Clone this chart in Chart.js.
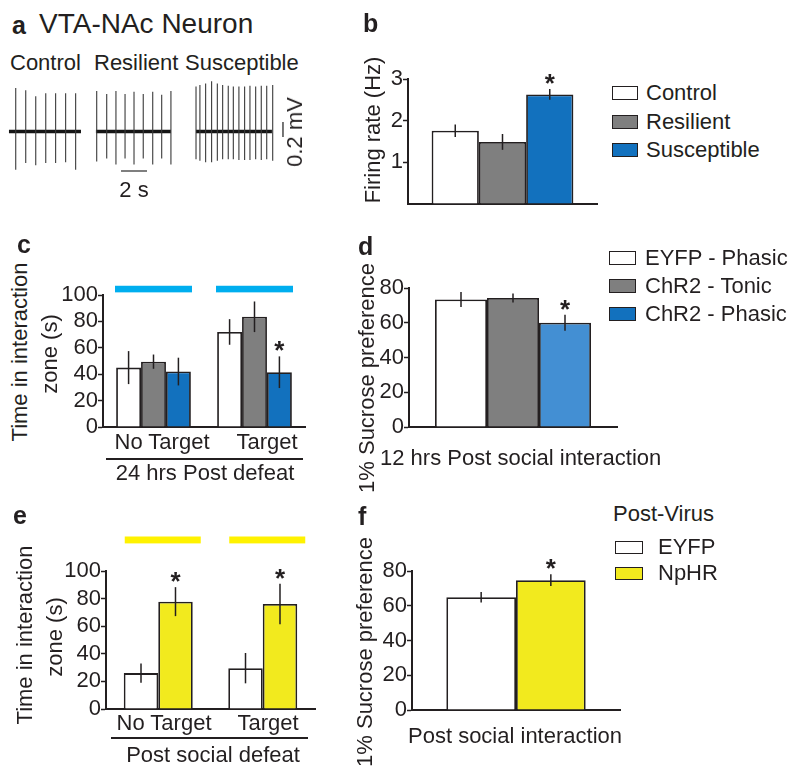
<!DOCTYPE html>
<html lang="en">
<head>
<meta charset="UTF-8" />
<title>VTA-NAc neuron firing and behaviour</title>
<script src="https://cdn.jsdelivr.net/npm/chart.js"></script>
<style>
  body { margin: 0; background: #fff; }
  #fig {
    position: relative;
    width: 800px;
    height: 778px;
    overflow: hidden;
    font-family: "Liberation Sans", Arial, Helvetica, sans-serif;
    color: #231f20;
  }
  #fig canvas { position: absolute; }
  .t { position: absolute; font-size: 22px; line-height: 1; white-space: nowrap; }
  .letter { font-weight: bold; font-size: 25px; }
  .big { font-size: 28px; }
  .rot { transform: translate(-50%, -50%) rotate(-90deg); }
  .mid { transform: translate(-50%, -50%); }
  .lft { transform: translateY(-50%); }
  .rule { position: absolute; height: 2px; background: #231f20; }
  .key { position: absolute; border: 1.5px solid #231f20; box-sizing: border-box; }
</style>
</head>
<body>
<div id="fig"></div>

<script>
  const FONT = '"Liberation Sans", Arial, Helvetica, sans-serif';
  const INK = '#231f20';

  // ---- a: example traces (time in s, spike peak / trough in mV) ----
  const ctrlSpan = [0.69, 6.23];
  const ctrlSpikes = [1.21, 1.98, 2.75, 3.52, 4.28, 5.05, 5.82];
  const ctrlTop = [0.58, 0.55, 0.47, 0.51, 0.51, 0.51, 0.51];
  const ctrlBot = [-0.51, -0.42, -0.45, -0.42, -0.42, -0.41, -0.51];

  const resSpan = [7.38, 13.15];
  const resSpikes = [7.44, 8.21, 8.92, 9.62, 10.31, 11.02, 11.75, 12.44, 13.15];
  const resTop = [0.54, 0.50, 0.54, 0.50, 0.53, 0.50, 0.53, 0.49, 0.54];
  const resBot = [-0.40, -0.36, -0.44, -0.36, -0.44, -0.36, -0.44, -0.36, -0.44];

  const susSpan = [15.08, 20.92];
  const susSpikes = [15.08, 15.38, 15.82, 16.28, 16.72, 17.13, 17.56, 17.95, 18.38, 18.82, 19.23, 19.67, 20.10, 20.52, 20.98];
  const susTop = [0.60, 0.62, 0.64, 0.67, 0.64, 0.62, 0.61, 0.60, 0.60, 0.60, 0.61, 0.60, 0.61, 0.61, 0.62];
  const susBot = [-0.37, -0.39, -0.41, -0.41, -0.39, -0.37, -0.37, -0.37, -0.38, -0.38, -0.38, -0.37, -0.38, -0.37, -0.39];

  const timeBar = [9.31, 11.31];      // 2 s
  const voltBar = [-0.073, 0.127];    // 0.2 mV

  // ---- b: firing rate ----
  const bGroups = ['Control', 'Resilient', 'Susceptible'];
  const bRate = [1.76, 1.49, 2.63];
  const bErr = [0.15, 0.19, 0.13];

  // ---- c: interaction time, 24 hrs post defeat ----
  const cCats = ['No Target', 'Target'];
  const cControl = [45, 72];
  const cControlErr = [12.5, 9.7];
  const cResilient = [49.5, 83.5];
  const cResilientErr = [5.4, 11.6];
  const cSusceptible = [42, 41.5];
  const cSusceptibleErr = [10.5, 12];

  // ---- d: sucrose preference ----
  const dGroups = ['EYFP - Phasic', 'ChR2 - Tonic', 'ChR2 - Phasic'];
  const dPref = [73.4, 74.3, 60];
  const dErr = [4.3, 2.6, 4.6];

  // ---- e: interaction time, post social defeat ----
  const eCats = ['No Target', 'Target'];
  const eEYFP = [26, 29.6];
  const eEYFPErr = [7, 11];
  const eNpHR = [77.8, 76.1];
  const eNpHRErr = [10.5, 14.7];

  // ---- f: sucrose preference ----
  const fGroups = ['EYFP', 'NpHR'];
  const fPref = [64.9, 74.7];
  const fErr = [3, 3.4];

  const WHITE = '#ffffff', GREY = '#7f7f7f', BLUE = '#1271be', LIGHTBLUE = '#438fd3', YELLOW = '#f2ea1e';

  Chart.defaults.font.family = FONT;
  Chart.defaults.color = INK;

  const fig = document.getElementById('fig');

  function text(str, x, y, cls) {
    const el = document.createElement('div');
    el.className = 't ' + cls;
    el.textContent = str;
    el.style.left = x + 'px';
    el.style.top = y + 'px';
    fig.appendChild(el);
  }

  function rule(x, y, w) {
    const el = document.createElement('div');
    el.className = 'rule';
    el.style.left = x + 'px';
    el.style.top = y + 'px';
    el.style.width = w + 'px';
    fig.appendChild(el);
  }

  function legend(names, colors, x, ys, w, h, textX) {
    names.forEach((name, i) => {
      const k = document.createElement('div');
      k.className = 'key';
      k.style.left = x + 'px';
      k.style.top = (ys[i] - h / 2) + 'px';
      k.style.width = w + 'px';
      k.style.height = h + 'px';
      k.style.background = colors[i];
      fig.appendChild(k);
      text(name, textX, ys[i], 'lft');
    });
  }

  // ---- panel a ----
  function trace(span, times, tops, bots) {
    const spikes = [];
    times.forEach((t, i) => {
      spikes.push({ x: t, y: bots[i] }, { x: t, y: tops[i] }, { x: t, y: null });
    });
    return { base: [{ x: span[0], y: 0 }, { x: span[1], y: 0 }, { x: span[1], y: null }], spikes };
  }

  const traces = [
    trace(ctrlSpan, ctrlSpikes, ctrlTop, ctrlBot),
    trace(resSpan, resSpikes, resTop, resBot),
    trace(susSpan, susSpikes, susTop, susBot)
  ];

  const aCanvas = document.createElement('canvas');
  aCanvas.width = 300;
  aCanvas.height = 100;
  aCanvas.style.left = '0px';
  aCanvas.style.top = '80px';
  fig.appendChild(aCanvas);

  new Chart(aCanvas, {
    type: 'line',
    data: {
      datasets: [
        {
          data: traces.flatMap(tr => tr.spikes),
          borderColor: '#3a3a3a', borderWidth: 1.1, pointRadius: 0, spanGaps: false
        },
        {
          data: traces.flatMap(tr => tr.base),
          borderColor: '#151515', borderWidth: 3.5, pointRadius: 0, spanGaps: false
        },
        {
          data: [
            { x: timeBar[0], y: -0.527 }, { x: timeBar[1], y: -0.527 }, { x: timeBar[1], y: null },
            { x: 21.77, y: voltBar[0] }, { x: 21.77, y: voltBar[1] }
          ],
          borderColor: '#555', borderWidth: 1.6, pointRadius: 0, spanGaps: false
        }
      ]
    },
    options: {
      responsive: false,
      animation: false,
      layout: { padding: 0 },
      plugins: { legend: { display: false }, tooltip: { enabled: false } },
      scales: {
        x: { type: 'linear', min: 0, max: 23.08, display: false },
        y: { min: -0.647, max: 0.687, display: false }
      }
    }
  });

  // ---- bar panels ----
  function barPanel(box, labels, sets, opt) {
    const YW = 60, PT = 45, PB = 20, PR = 8;
    const cv = document.createElement('canvas');
    cv.width = box.r - box.l + YW + PR;
    cv.height = box.b - box.t + PT + PB;
    cv.style.left = (box.l - YW) + 'px';
    cv.style.top = (box.t - PT) + 'px';
    fig.appendChild(cv);

    const marks = {
      id: 'marks',
      afterDatasetsDraw(chart) {
        const c = chart.ctx, ys = chart.scales.y, xs = chart.scales.x;
        c.save();
        if (opt.stim) {
          c.fillStyle = opt.stim.color;
          labels.forEach((_, i) => {
            const cx = xs.getPixelForValue(i) + opt.stim.shift;
            const y1 = ys.getPixelForValue(opt.stim.hi);
            const y2 = ys.getPixelForValue(opt.stim.lo);
            c.fillRect(cx - opt.stim.half, y1, opt.stim.half * 2, y2 - y1);
          });
        }
        // error bars
        c.strokeStyle = INK;
        c.lineWidth = 1.5;
        sets.forEach((s, i) => {
          chart.getDatasetMeta(i).data.forEach((bar, j) => {
            const hi = ys.getPixelForValue(s.data[j] + s.err[j]);
            const lo = ys.getPixelForValue(s.data[j] - s.err[j]);
            c.beginPath();
            c.moveTo(bar.x, hi);
            c.lineTo(bar.x, lo);
            c.stroke();
          });
        });
        // significance stars
        c.fillStyle = INK;
        c.font = 'bold 26px ' + FONT;
        c.textAlign = 'center';
        c.textBaseline = 'alphabetic';
        (opt.stars || []).forEach(([i, j]) => {
          const s = sets[i];
          const bar = chart.getDatasetMeta(i).data[j];
          const top = ys.getPixelForValue(s.data[j] + s.err[j]);
          c.fillText('*', bar.x, top + 3);
        });
        c.restore();
      }
    };

    new Chart(cv, {
      type: 'bar',
      data: {
        labels: labels,
        datasets: sets.map(s => ({
          label: s.label,
          data: s.data,
          backgroundColor: s.color,
          borderColor: INK,
          borderWidth: 1.8,
          categoryPercentage: opt.cat,
          barPercentage: 1
        }))
      },
      options: {
        responsive: false,
        animation: false,
        layout: { padding: { left: 0, top: PT, right: PR, bottom: PB } },
        plugins: { legend: { display: false }, tooltip: { enabled: false } },
        scales: {
          x: {
            grid: { display: false },
            ticks: { display: false },
            border: { color: INK, width: 2 },
            afterFit: s => { s.height = 0; }
          },
          y: {
            min: 0,
            max: opt.max,
            ticks: {
              stepSize: opt.step,
              autoSkip: false,
              padding: 0,
              color: INK,
              font: { size: 22 },
              callback: v => (opt.noZero && v === 0) ? '' : v
            },
            grid: {
              drawOnChartArea: false,
              tickLength: 5,
              tickWidth: 1.5,
              tickColor: ctx => (opt.noZero && ctx.tick && ctx.tick.value === 0) ? 'rgba(0,0,0,0)' : INK
            },
            border: { color: INK, width: 2 },
            afterFit: s => { s.width = YW; }
          }
        }
      },
      plugins: [marks]
    });
  }

  // b
  barPanel({ l: 408, r: 597, t: 79, b: 204 }, ['Firing rate'], [
    { label: bGroups[0], data: [bRate[0]], err: [bErr[0]], color: WHITE },
    { label: bGroups[1], data: [bRate[1]], err: [bErr[1]], color: GREY },
    { label: bGroups[2], data: [bRate[2]], err: [bErr[2]], color: BLUE }
  ], { max: 3, step: 1, noZero: true, cat: 0.75, stars: [[2, 0]] });

  // c
  barPanel({ l: 103, r: 305, t: 295, b: 427 }, cCats, [
    { label: 'Control', data: cControl, err: cControlErr, color: WHITE },
    { label: 'Resilient', data: cResilient, err: cResilientErr, color: GREY },
    { label: 'Susceptible', data: cSusceptible, err: cSusceptibleErr, color: BLUE }
  ], { max: 100, step: 20, cat: 0.74, stars: [[2, 1]],
       stim: { color: '#00aeef', lo: 102, hi: 107, half: 38.5, shift: 0 } });

  // d
  barPanel({ l: 409, r: 617, t: 288, b: 427 }, ['Sucrose preference'], [
    { label: dGroups[0], data: [dPref[0]], err: [dErr[0]], color: WHITE },
    { label: dGroups[1], data: [dPref[1]], err: [dErr[1]], color: GREY },
    { label: dGroups[2], data: [dPref[2]], err: [dErr[2]], color: LIGHTBLUE }
  ], { max: 80, step: 20, cat: 0.75, stars: [[2, 0]] });

  // e
  barPanel({ l: 106, r: 315, t: 571, b: 709 }, eCats, [
    { label: 'EYFP', data: eEYFP, err: eEYFPErr, color: WHITE },
    { label: 'NpHR', data: eNpHR, err: eNpHRErr, color: YELLOW }
  ], { max: 100, step: 20, cat: 0.66, stars: [[1, 0], [1, 1]],
       stim: { color: '#fff200', lo: 120, hi: 125, half: 38, shift: 4.5 } });

  // f
  barPanel({ l: 412, r: 620, t: 571, b: 710 }, ['Sucrose preference'], [
    { label: fGroups[0], data: [fPref[0]], err: [fErr[0]], color: WHITE },
    { label: fGroups[1], data: [fPref[1]], err: [fErr[1]], color: YELLOW }
  ], { max: 80, step: 20, cat: 0.67, stars: [[1, 0]] });

  // ---- text ----
  // a
  text('a', 12, 25, 'letter lft');
  text('VTA-NAc Neuron', 39, 24, 'big lft');
  text('Control', 10, 63, 'lft');
  text('Resilient', 94, 63, 'lft');
  text('Susceptible', 185, 63, 'lft');
  text('2 s', 134, 190, 'mid');
  text('0.2 mV', 295, 132, 'rot');

  // b
  text('b', 363, 23, 'letter lft');
  text('Firing rate (Hz)', 373, 130, 'rot');
  legend(bGroups, [WHITE, GREY, BLUE], 612, [93, 121.5, 150], 26, 14, 646);

  // c
  text('c', 17, 244, 'letter lft');
  text('Time in interaction', 20, 352, 'rot');
  text('zone (s)', 50, 354, 'rot');
  text(cCats[0], 162, 442, 'mid');
  text(cCats[1], 267, 442, 'mid');
  rule(106, 458, 197);
  text('24 hrs Post defeat', 205, 473, 'mid');

  // d
  text('d', 358, 246, 'letter lft');
  text('1% Sucrose preference', 367, 378, 'rot');
  legend(dGroups, [WHITE, GREY, BLUE], 609, [257.5, 285.8, 314], 27, 14, 645);
  text('12 hrs Post social interaction', 380, 458, 'lft');

  // e
  text('e', 13, 515, 'letter lft');
  text('Time in interaction', 25, 635, 'rot');
  text('zone (s)', 55, 637, 'rot');
  text(eCats[0], 164, 723, 'mid');
  text(eCats[1], 268, 723, 'mid');
  rule(111, 737, 197);
  text('Post social defeat', 213, 755, 'mid');

  // f
  text('f', 358, 516, 'letter lft');
  text('1% Sucrose preference', 365, 652, 'rot');
  text('Post-Virus', 613, 514, 'lft');
  legend(fGroups, [WHITE, YELLOW], 615, [547, 573], 28, 13, 658);
  text('Post social interaction', 408, 736, 'lft');
</script>
</body>
</html>
